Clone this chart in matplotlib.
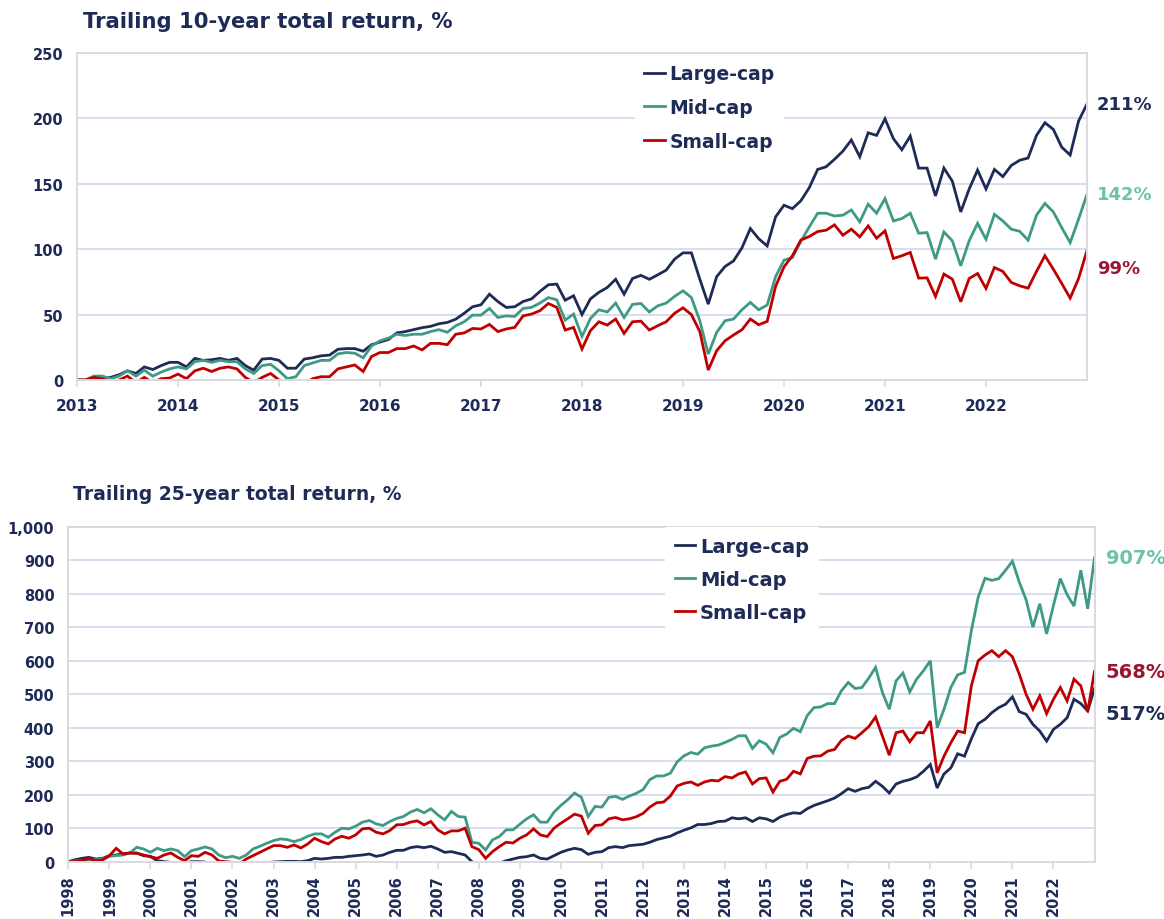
import numpy as np
import matplotlib
matplotlib.use("Agg")
import matplotlib.pyplot as plt
from matplotlib.lines import Line2D

plt.rcParams['font.family'] = ['DejaVu Sans']
plt.rcParams['font.weight'] = 'bold'

# ---------------- data ----------------
series_names = ["Large-cap", "Mid-cap", "Small-cap"]

# Trailing 10-year total return, monthly from Jan 2013 to Jan 2023
start_10 = 2013
large_10 = [0, 0, 0, 1, 2, 4, 7, 5, 10, 8, 11, 13.5,
            13.5, 10, 16.5, 15, 15.5, 16.5, 15, 16.5, 11, 7.5, 16, 16.5,
            15, 9, 9, 16, 17, 18.5, 19, 23.5, 24, 24, 22, 27,
            29, 31, 36, 37, 38.5, 40, 41, 43, 44, 46.5, 51, 56,
            57.5, 65.6, 60, 55.5, 56, 60, 62, 67.7, 72.8, 73.3, 61, 64.4,
            50, 62, 67, 70.7, 77, 65.6, 77.6, 80, 77, 80.4, 84, 92.4,
            97.2, 97.2, 77, 58, 79, 86.8, 91, 101, 115.8, 108, 102.5, 124.7,
            133.6, 131, 137, 147, 161, 163, 168.7, 175, 183.5, 170.7, 189, 187,
            199.7, 184.5, 176, 186.5, 162, 162, 140.7, 162, 152, 128.5, 146, 160.5,
            146, 161, 155.5, 164, 168, 169.7, 187, 196.7, 191.6, 178, 172, 198,
            211]
mid_10 = [0, 0, 3, 3, 1, 3, 7, 3, 7.5, 3, 6, 8.5,
          10, 8.5, 14, 15, 13.5, 15, 14, 14, 8.5, 5, 11, 12,
          7, 1, 2.5, 11, 13, 15, 15, 20, 21, 20.5, 17, 26,
          30, 32, 35, 34, 35, 35, 37, 38.5, 36.5, 41.5, 44.5, 49.6,
          49.6, 54.7, 47.8, 49, 48.6, 54.7, 55.5, 58.8, 63, 61.3, 45.8, 50.4,
          33.3, 47, 53.7, 52, 58.8, 47.8, 57.8, 58.5, 52, 56.7, 58.8, 63.9,
          68.2, 63, 45.3, 19.8, 36.4, 45.3, 46.6, 53.7, 59.3, 53.7, 57.3, 79,
          91.6, 93.6, 106, 117, 127.5, 127.5, 125.4, 126, 130, 120.9, 134.4, 127.5,
          138.7, 121.6, 123.4, 127.5, 112.2, 112.7, 92.4, 113.2, 106.4, 87.3, 106.4, 119.8,
          107.6, 126.7, 121.6, 115.3, 113.7, 106.9, 126, 135, 128.5, 116.5, 105, 123,
          142]
small_10 = [0, 0, 2, 1, -2, 0, 3, -2, 2, -2, 1, 1.5,
            4.5, 1, 7, 9, 6.5, 9, 10, 8.5, 2, -2, 2, 5,
            0, -3, -4, -3, 1, 2.5, 2.5, 8.5, 10, 11.5, 6.5, 18,
            21, 21, 24, 24, 26, 23, 28, 28, 27, 35, 36, 39.4,
            39, 42.5, 37, 39, 40.2, 49, 50.4, 53, 58.5, 55.5, 38.2, 40.2,
            23.7, 37.7, 44.5, 42, 46.6, 35.6, 44.5, 45, 38.2, 41.5, 44.5, 51,
            55.2, 50, 37, 7.6, 22.4, 30, 34.4, 38.4, 46.6, 42.2, 44.8, 71.5,
            86.5, 95, 107, 109.7, 113.5, 114.5, 118.6, 110.7, 115.3, 109.4, 117.8, 108.4,
            114, 92.9, 95, 97.5, 77.9, 78.1, 63.9, 81, 77.1, 59.8, 77.6, 81.4,
            70, 86, 83, 74.6, 72, 70.2, 83, 95, 84.7, 73.8, 62.6, 77.6,
            99]

# Trailing 25-year total return, every two months from Jan 1998 to Jan 2023
start_25 = 1998
large_25 = [0, 6, 10, 13, 8, 10, 18, 20, 24, 26, 26, 18,
            16, 3, 0, -2, -7, -4, 0, 0, -1, -15, -25, -30,
            -30, -25, -20, -15, -8, -3, -1, 0, 1, 1, 0, 3,
            10, 8, 10, 13, 13, 16, 18, 20, 23, 16, 20, 28,
            34, 34, 42, 45, 42, 46, 38, 28, 30, 25, 20, 0,
            -15, -30, -35, -5, 3, 8, 13, 15, 20, 10, 8, 18,
            28, 35, 40, 36, 22, 28, 30, 42, 45, 42, 48, 50,
            52, 58, 66, 71, 76, 86, 94, 101, 111, 111, 114, 120,
            121, 131, 128, 131, 120, 131, 128, 120, 133, 141, 146, 144,
            158, 168, 175, 182, 190, 203, 218, 210, 218, 222, 240, 225,
            205, 232, 240, 245, 253, 270, 290, 220, 262, 280, 322, 315,
            367, 412, 425, 445, 460, 470, 492, 448, 440, 410, 390, 360,
            395, 410, 430, 485, 472, 450, 517]
mid_25 = [0, 2, 3, 5, 6, 8, 16, 18, 20, 26, 43, 38,
          28, 40, 33, 38, 33, 15, 33, 38, 44, 38, 20, 12,
          16, 10, 20, 38, 46, 55, 63, 68, 66, 60, 66, 76,
          83, 83, 73, 88, 100, 98, 106, 118, 123, 113, 108, 120,
          129, 135, 148, 156, 146, 158, 140, 125, 150, 135, 133, 58,
          55, 35, 65, 75, 95, 95, 112, 128, 140, 118, 118, 148,
          168, 185, 205, 192, 135, 165, 163, 192, 195, 186, 196, 204,
          215, 245, 256, 256, 264, 298, 316, 326, 321, 340, 345, 348,
          356, 365, 376, 376, 338, 361, 351, 325, 371, 381, 398, 388,
          436, 460, 462, 472, 472, 510, 535, 517, 520, 548, 580, 505,
          455, 540, 563, 507, 545, 570, 600, 400, 455, 520, 558, 565,
          690, 790, 846, 840, 845, 870, 897, 835, 782, 700, 770, 680,
          765, 845, 797, 763, 870, 755, 907]
small_25 = [0, 0, 3, 10, 3, 5, 18, 40, 23, 26, 25, 20,
            15, 10, 20, 26, 13, 3, 18, 16, 28, 20, 2, 0,
            -2, -7, 8, 18, 28, 38, 48, 48, 43, 50, 41, 53,
            70, 60, 53, 68, 76, 70, 80, 98, 100, 88, 83, 93,
            110, 111, 118, 122, 110, 120, 95, 83, 92, 92, 100, 45,
            36, 10, 30, 45, 58, 56, 70, 80, 98, 80, 75, 100,
            115, 128, 142, 136, 85, 108, 110, 128, 132, 125, 128, 134,
            144, 163, 176, 178, 196, 226, 234, 238, 228, 238, 243, 241,
            254, 250, 262, 268, 232, 248, 250, 208, 240, 246, 270, 262,
            308, 315, 316, 330, 335, 362, 375, 368, 385, 403, 432, 375,
            318, 385, 390, 358, 385, 385, 420, 265, 315, 355, 390, 385,
            525, 600, 617, 630, 612, 630, 612, 560, 500, 455, 495, 442,
            485, 520, 480, 545, 525, 448, 568]

years_10 = list(range(2013, 2023))
years_25 = list(range(1998, 2023))
yticks_10 = [0, 50, 100, 150, 200, 250]
yticks_25 = [0, 100, 200, 300, 400, 500, 600, 700, 800, 900, 1000]

end_labels_10 = ["211%", "142%", "99%"]
end_labels_25 = ["517%", "907%", "568%"]

# ---------------- style ----------------
NAVY = "#1f2b57"
GREEN = "#3f9a85"
RED = "#c00000"
LBL_GREEN = "#6cc2aa"
LBL_RED = "#9b1532"
GRID = "#d8ddee"
SPINE = "#d9d9e0"
line_colors = [NAVY, GREEN, RED]
label_colors = [NAVY, LBL_GREEN, LBL_RED]

W, H = 1164, 920
fig = plt.figure(figsize=(W / 100, H / 100), dpi=100)


def px_axes(left, top, right, bottom):
    return fig.add_axes([left / W, 1 - bottom / H, (right - left) / W, (bottom - top) / H])


def style_axes(ax, yticks, ylabels, xticks, rot, xlab_size, xpad):
    ax.set_yticks(yticks)
    ax.set_yticklabels(ylabels)
    ax.set_xticks(xticks)
    ax.set_xticklabels([str(y) for y in xticks], rotation=rot)
    ax.yaxis.grid(True, color=GRID, lw=1.4)
    ax.set_axisbelow(True)
    for s in ax.spines.values():
        s.set_color(SPINE)
        s.set_linewidth(1.4)
    ax.tick_params(axis='y', length=0, pad=10, labelsize=10.5, labelcolor=NAVY)
    ax.tick_params(axis='x', length=5, width=1.2, color=SPINE, pad=xpad,
                   labelsize=xlab_size, labelcolor=NAVY)


# ---------------- top chart ----------------
ax1 = px_axes(77, 54, 1087, 381)
x10 = start_10 + np.arange(len(large_10)) / 12
for vals, c in zip([large_10, mid_10, small_10], line_colors):
    ax1.plot(x10, vals, color=c, lw=2.0, solid_joinstyle='miter')
ax1.set_xlim(2013, 2023)
ax1.set_ylim(0, 250)
style_axes(ax1, yticks_10, [str(v) for v in yticks_10], years_10, 0, 11, 8)

handles = [Line2D([], [], color=c, lw=2.0) for c in line_colors]
ax1.legend(handles, series_names, loc='upper left', bbox_to_anchor=(0.552, 0.994),
           frameon=True, facecolor='white', edgecolor='none', framealpha=1,
           fancybox=False, handlelength=1.1, handletextpad=0.25, labelspacing=0.78,
           borderpad=0.5, borderaxespad=0, labelcolor=NAVY,
           prop=dict(weight='bold', size=13.5))

lab_y10 = [large_10[-1], mid_10[-1], small_10[-1] - 13]
for t, yv, c in zip(end_labels_10, lab_y10, label_colors):
    ax1.annotate(t, xy=(1.0, yv), xycoords=('axes fraction', 'data'),
                 xytext=(7, 0), textcoords='offset points', va='center', ha='left',
                 color=c, fontsize=13, fontweight='bold', annotation_clip=False)

fig.text(83 / W, 1 - 22 / H, "Trailing 10-year total return, %", color=NAVY,
         fontsize=15.2, fontweight='bold', va='center', ha='left')

# ---------------- bottom chart ----------------
ax2 = px_axes(68.3, 527.7, 1094.5, 862.7)
x25 = start_25 + np.arange(len(large_25)) / 6
for vals, c in zip([large_25, mid_25, small_25], line_colors):
    ax2.plot(x25, vals, color=c, lw=2.0, solid_joinstyle='miter')
ax2.set_xlim(1998, 2023)
ax2.set_ylim(0, 1000)
style_axes(ax2, yticks_25, [f"{v:,}" for v in yticks_25], years_25, 90, 10.5, 4)

ax2.legend(handles, series_names, loc='upper left', bbox_to_anchor=(0.5815, 0.999),
           frameon=True, facecolor='white', edgecolor='none', framealpha=1,
           fancybox=False, handlelength=1.05, handletextpad=0.25, labelspacing=0.72,
           borderpad=0.5, borderaxespad=0, labelcolor=NAVY,
           prop=dict(weight='bold', size=14))

lab_y25 = [large_25[-1] - 76, mid_25[-1], small_25[-1]]
for t, yv, c in zip(end_labels_25, lab_y25, label_colors):
    ax2.annotate(t, xy=(1.0, yv), xycoords=('axes fraction', 'data'),
                 xytext=(8, 0), textcoords='offset points', va='center', ha='left',
                 color=c, fontsize=14, fontweight='bold', annotation_clip=False)

fig.text(73 / W, 1 - 495 / H, "Trailing 25-year total return, %", color=NAVY,
         fontsize=13.5, fontweight='bold', va='center', ha='left')

fig.savefig("out.png", dpi=100, facecolor='white')
